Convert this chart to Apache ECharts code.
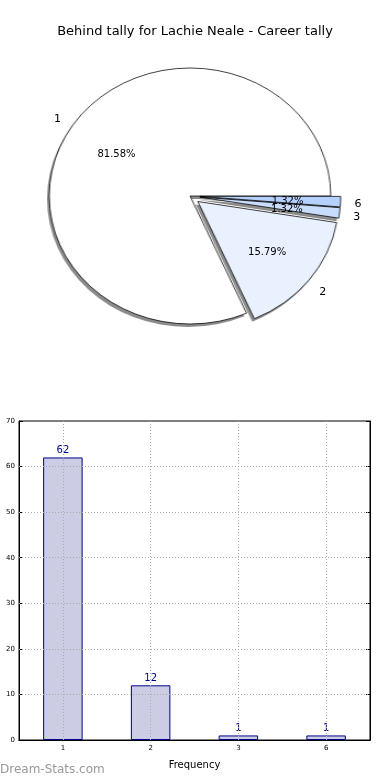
<!DOCTYPE html>
<html><head><meta charset="utf-8">
<script src="https://cdn.jsdelivr.net/npm/echarts@6/dist/echarts.min.js"></script>
<style>
html,body{margin:0;padding:0;background:#fff}
#wrap{position:relative;width:390px;height:780px}
#p{position:absolute;left:0;top:0;width:390px;height:390px;transform:scaleX(1.1);transform-origin:190px 196px}
#c{position:absolute;left:0;top:0;width:390px;height:780px}
</style>
</head><body><div id="wrap"><div id="p"></div><div id="c"></div></div>
<script>
const titleText = 'Behind tally for Lachie Neale - Career tally';
const categories = ['1', '2', '3', '6'];
const counts = [62, 12, 1, 1];
const sliceColors = ['#ffffff', '#eaf1fe', '#c8dcfc', '#b4d0fc'];
const exploded = [false, true, true, true];
const yTicks = [0, 10, 20, 30, 40, 50, 60, 70];
const xAxisName = 'Frequency';
const watermark = 'Dream-Stats.com';

const R = 128;        // vertical radius; pie is stretched horizontally
const SX = 1.1;       // horizontal stretch of the pie
const CX = 190, CY = 196;
const OFFSET = 9;
const font = 'DejaVu Sans';
const total = counts.reduce((a, b) => a + b, 0);

const pieData = categories.map((c, i) => ({
  name: c, value: counts[i], selected: exploded[i],
  itemStyle: { color: sliceColors[i] }
}));
const shadowData = categories.map((c, i) => ({
  name: c, value: counts[i], selected: exploded[i],
  itemStyle: { color: '#8c8c8c', borderWidth: 0 }
}));
const labelData = categories.map((c, i) => ({
  name: c, value: counts[i],
  itemStyle: { color: 'rgba(0,0,0,0)', borderWidth: 0 }
}));

const pieCommon = {
  type: 'pie', startAngle: 0, clockwise: false,
  selectedMode: 'multiple', selectedOffset: OFFSET,
  emphasis: { disabled: true }, silent: true,
  avoidLabelOverlap: false
};
// follow the elliptical, exploded pie: stretch the library's label position
// horizontally and push exploded slices' labels outward by the explode offset
const stretchLabel = p => {
  const cx0 = p.labelRect.x + p.labelRect.width / 2;
  const cy0 = p.labelRect.y + p.labelRect.height / 2;
  const dx = cx0 - CX, dy = cy0 - CY;
  const len = Math.hypot(dx, dy) || 1;
  const off = exploded[p.dataIndex] ? OFFSET : 0;
  return {
    x: CX + dx * SX + off * SX * dx / len,
    y: CY + dy + off * dy / len + 2,
    align: 'center', verticalAlign: 'middle',
    hideOverlap: false
  };
};

const pieChart = echarts.init(document.getElementById('p'), null, { renderer: 'canvas' });
pieChart.setOption({
  animation: false,
  series: [
    Object.assign({}, pieCommon, {
      center: [CX - 2, CY + 3], radius: [0, R], data: shadowData,
      label: { show: false }, labelLine: { show: false }, z: 1
    }),
    Object.assign({}, pieCommon, {
      center: [CX, CY], radius: [0, R], data: pieData,
      itemStyle: { borderColor: '#000', borderWidth: 0.75 },
      label: { show: false }, labelLine: { show: false }, z: 2
    })
  ]
});

const chart = echarts.init(document.getElementById('c'), null, { renderer: 'canvas' });
chart.setOption({
  animation: false,
  backgroundColor: 'transparent',
  title: {
    text: titleText, left: 'center', top: 20,
    textStyle: { fontFamily: font, fontSize: 13, fontWeight: 'normal', color: '#000' }
  },
  graphic: [{
    type: 'text', left: 0, top: 764,
    style: { text: watermark, font: '12px "DejaVu Sans"', fill: '#999999' }
  }],
  grid: { left: 19, right: 20, top: 421, bottom: 40, show: true, borderColor: '#000', borderWidth: 1, backgroundColor: 'transparent' },
  xAxis: [{
    type: 'category', data: categories,
    name: xAxisName, nameLocation: 'middle', nameGap: 20,
    nameTextStyle: { fontFamily: font, fontSize: 10, color: '#000' },
    axisLine: { lineStyle: { color: '#000' } },
    axisTick: { inside: true, alignWithLabel: true, length: 4, lineStyle: { color: '#000' } },
    axisLabel: { fontFamily: font, fontSize: 7, color: '#000', margin: 5 },
    splitLine: { show: false }
  }, {
    type: 'category', data: categories, position: 'top',
    axisLine: { lineStyle: { color: '#000' } },
    axisTick: { inside: true, alignWithLabel: true, length: 4, lineStyle: { color: '#000' } },
    axisLabel: { show: false }, splitLine: { show: false }
  }],
  yAxis: [{
    type: 'value', min: 0, max: 70, interval: 10,
    axisLine: { show: true, lineStyle: { color: '#000' } },
    axisTick: { show: true, inside: true, length: 4, lineStyle: { color: '#000' } },
    axisLabel: { fontFamily: font, fontSize: 7, color: '#000', margin: 4 },
    splitLine: { show: false }
  }, {
    type: 'value', min: 0, max: 70, interval: 10, position: 'right',
    axisLine: { show: true, lineStyle: { color: '#000' } },
    axisTick: { show: true, inside: true, length: 4, lineStyle: { color: '#000' } },
    axisLabel: { show: false }, splitLine: { show: false }
  }],
  series: [
    {
      type: 'pie', startAngle: 0, clockwise: false, silent: true,
      emphasis: { disabled: true }, avoidLabelOverlap: false,
      center: [CX, CY], radius: [0, R * 1.2], data: labelData,
      label: {
        show: true, position: 'inside',
        formatter: p => (p.value / total * 100).toFixed(2) + '%',
        fontFamily: font, fontSize: 10, color: '#000'
      },
      labelLayout: stretchLabel,
      labelLine: { show: false }, z: 3
    },
    {
      type: 'pie', startAngle: 0, clockwise: false, silent: true,
      emphasis: { disabled: true }, avoidLabelOverlap: false,
      center: [CX, CY], radius: [0, R * 2.2], data: labelData,
      label: {
        show: true, position: 'inside', formatter: '{b}',
        fontFamily: font, fontSize: 11, color: '#000'
      },
      labelLayout: stretchLabel,
      labelLine: { show: false }, z: 3
    },
    {
      type: 'bar', data: counts, barWidth: '45%', xAxisIndex: 0, yAxisIndex: 0,
      itemStyle: { color: '#ccccE4', borderColor: '#00008b', borderWidth: 1 },
      label: { show: true, position: 'top', distance: 2, fontFamily: font, fontSize: 10, color: '#00008b' },
      emphasis: { disabled: true },
      markLine: {
        silent: true, symbol: 'none', label: { show: false },
        lineStyle: { color: '#aaaaaa', type: [1, 2], width: 1 },
        data: categories.map(c => ({ xAxis: c })).concat(yTicks.slice(1, -1).map(v => ({ yAxis: v })))
      }
    }
  ]
});
</script>
</body></html>
